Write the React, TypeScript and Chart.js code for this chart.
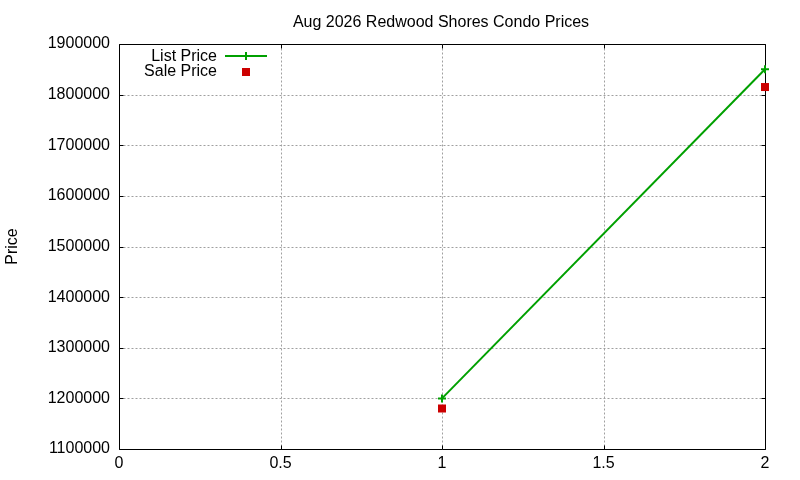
import React, { useEffect, useRef } from "react";
import { Chart, registerables } from "chart.js";

Chart.register(...registerables);

const TITLE = "Aug 2026 Redwood Shores Condo Prices";
const Y_TITLE = "Price";
const SERIES_NAMES = ["List Price", "Sale Price"];
const X_VALUES = [1, 2];
const LIST_PRICES = [1200000, 1850000];
const SALE_PRICES = [1180000, 1815000];
const X_MIN = 0;
const X_MAX = 2;
const X_STEP = 0.5;
const Y_MIN = 1100000;
const Y_MAX = 1900000;
const Y_STEP = 100000;

const GREEN = "#00a000";
const RED = "#cc0000";
const GRID = "#a0a0a0";
const FONT_FAMILY = "'Liberation Sans', Arial, sans-serif";
const FONT_SIZE = 16;

const gnuplotPlugin = {
  id: "gnuplotFrame",
  beforeDatasetsDraw(chart: any) {
    const { ctx, chartArea } = chart;
    const xs = chart.scales.x;
    const ys = chart.scales.y;
    const L = Math.round(chartArea.left) + 0.5;
    const R = Math.round(chartArea.right) + 0.5;
    const T = Math.round(chartArea.top) + 0.5;
    const B = Math.round(chartArea.bottom) + 0.5;
    ctx.save();
    // grid
    ctx.strokeStyle = GRID;
    ctx.lineWidth = 1;
    ctx.setLineDash([2, 2]);
    ctx.beginPath();
    xs.ticks.forEach((t: any) => {
      if (t.value <= X_MIN || t.value >= X_MAX) return;
      const px = Math.round(xs.getPixelForValue(t.value)) + 0.5;
      ctx.moveTo(px, T);
      ctx.lineTo(px, B);
    });
    ys.ticks.forEach((t: any) => {
      if (t.value <= Y_MIN || t.value >= Y_MAX) return;
      const py = Math.round(ys.getPixelForValue(t.value)) + 0.5;
      ctx.moveTo(L, py);
      ctx.lineTo(R, py);
    });
    ctx.stroke();
    ctx.setLineDash([]);
    // frame
    ctx.strokeStyle = "#000000";
    ctx.beginPath();
    ctx.rect(L, T, R - L, B - T);
    ctx.stroke();
    // inward ticks (mirrored)
    const TL = 4;
    ctx.beginPath();
    xs.ticks.forEach((t: any) => {
      const px = Math.round(xs.getPixelForValue(t.value)) + 0.5;
      ctx.moveTo(px, B);
      ctx.lineTo(px, B - TL);
      ctx.moveTo(px, T);
      ctx.lineTo(px, T + TL);
    });
    ys.ticks.forEach((t: any) => {
      const py = Math.round(ys.getPixelForValue(t.value)) + 0.5;
      ctx.moveTo(L, py);
      ctx.lineTo(L + TL, py);
      ctx.moveTo(R, py);
      ctx.lineTo(R - TL, py);
    });
    ctx.stroke();
    ctx.restore();
  },
  afterDraw(chart: any) {
    const { ctx, chartArea } = chart;
    ctx.save();
    ctx.fillStyle = "#000000";
    ctx.font = `${FONT_SIZE}px ${FONT_FAMILY}`;
    ctx.textBaseline = "alphabetic";
    // title
    ctx.textAlign = "center";
    ctx.fillText(TITLE, (chartArea.left + chartArea.right) / 2 - 1, 27);
    // y title
    ctx.save();
    ctx.translate(17, (chartArea.top + chartArea.bottom) / 2);
    ctx.rotate(-Math.PI / 2);
    ctx.textAlign = "center";
    ctx.fillText(Y_TITLE, 0, 0);
    ctx.restore();
    // legend
    ctx.textAlign = "right";
    ctx.fillText(SERIES_NAMES[0], 217, 61);
    ctx.fillText(SERIES_NAMES[1], 217, 76);
    ctx.strokeStyle = GREEN;
    ctx.lineWidth = 2;
    ctx.beginPath();
    ctx.moveTo(225, 56);
    ctx.lineTo(267, 56);
    ctx.moveTo(246, 52);
    ctx.lineTo(246, 60);
    ctx.stroke();
    ctx.fillStyle = RED;
    ctx.fillRect(242, 68, 8, 8);
    ctx.restore();
  },
};

export default function App() {
  const canvasRef = useRef<HTMLCanvasElement | null>(null);

  useEffect(() => {
    if (!canvasRef.current) return;
    const listData = X_VALUES.map((x, i) => ({ x, y: LIST_PRICES[i] }));
    const saleData = X_VALUES.map((x, i) => ({ x, y: SALE_PRICES[i] }));
    const chart = new Chart(canvasRef.current, {
      type: "scatter",
      data: {
        datasets: [
          {
            label: SERIES_NAMES[0],
            data: listData,
            showLine: true,
            borderColor: GREEN,
            backgroundColor: GREEN,
            borderWidth: 2,
            pointStyle: "cross",
            pointRadius: 4,
            pointBorderWidth: 2,
            pointBorderColor: GREEN,
            clip: false,
          } as any,
          {
            label: SERIES_NAMES[1],
            data: saleData,
            showLine: false,
            borderColor: RED,
            backgroundColor: RED,
            pointStyle: "rect",
            pointRadius: 5.66,
            pointBorderWidth: 0,
            clip: false,
          } as any,
        ],
      },
      options: {
        animation: false,
        responsive: false,
        events: [],
        layout: { padding: { top: 44, right: 35, left: 0, bottom: 0 } },
        plugins: {
          legend: { display: false },
          title: { display: false },
          tooltip: { enabled: false },
        },
        scales: {
          x: {
            type: "linear",
            min: X_MIN,
            max: X_MAX,
            grid: { display: false, drawTicks: false },
            border: { display: false },
            ticks: {
              stepSize: X_STEP,
              autoSkip: false,
              maxRotation: 0,
              padding: 5,
              color: "#000000",
              font: { family: FONT_FAMILY, size: FONT_SIZE },
              callback: (v: any) => String(v),
            },
            afterFit: (s: any) => {
              s.height = 31;
            },
          },
          y: {
            type: "linear",
            min: Y_MIN,
            max: Y_MAX,
            grid: { display: false, drawTicks: false },
            border: { display: false },
            ticks: {
              stepSize: Y_STEP,
              autoSkip: false,
              padding: 9,
              color: "#000000",
              font: { family: FONT_FAMILY, size: FONT_SIZE },
              callback: (v: any) => String(v),
            },
            afterFit: (s: any) => {
              s.width = 119;
            },
          },
        },
      },
      plugins: [gnuplotPlugin],
    });
    return () => chart.destroy();
  }, []);

  return (
    <div style={{ position: "absolute", left: 0, top: 0, width: 800, height: 480, background: "#ffffff" }}>
      <canvas ref={canvasRef} width={800} height={480} style={{ display: "block", width: 800, height: 480 }} />
    </div>
  );
}
